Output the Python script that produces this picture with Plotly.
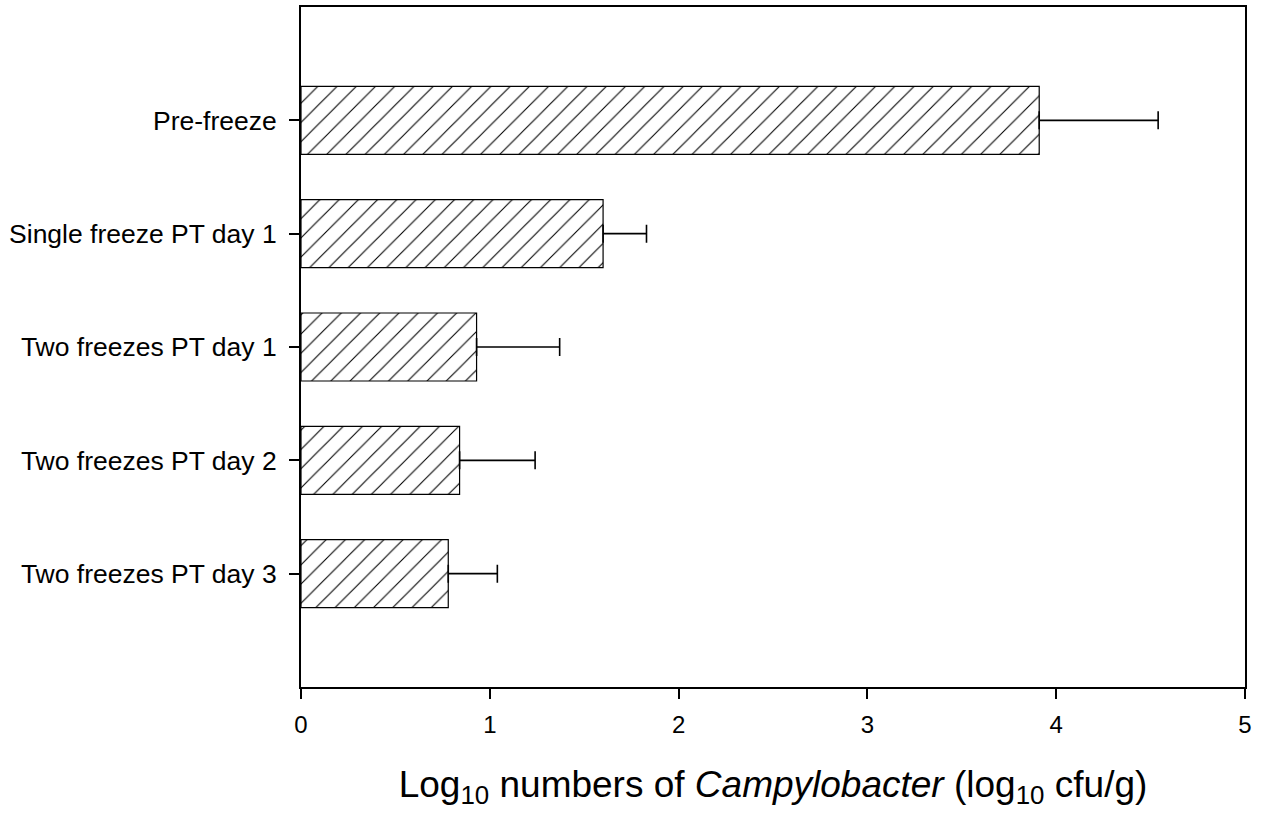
import plotly.graph_objects as go

categories = ["Pre-freeze", "Single freeze PT day 1", "Two freezes PT day 1",
              "Two freezes PT day 2", "Two freezes PT day 3"]
means = [3.91, 1.60, 0.93, 0.84, 0.78]
errors = [0.63, 0.23, 0.44, 0.40, 0.26]
x_ticks = [0, 1, 2, 3, 4, 5]

FONT = "Liberation Sans, Arial, sans-serif"

fig = go.Figure()
fig.add_trace(go.Bar(
    x=means,
    y=categories,
    orientation="h",
    width=0.6,
    marker=dict(
        color="white",
        line=dict(color="black", width=1.2),
        pattern=dict(shape="/", size=13.6, solidity=0.08,
                     fgcolor="black", bgcolor="white", fgopacity=1,
                     fillmode="overlay"),
    ),
    error_x=dict(type="data", array=errors, symmetric=False,
                 arrayminus=[0] * len(errors),
                 color="black", thickness=1.6, width=9),
    showlegend=False,
))

fig.update_layout(
    width=1265, height=814,
    margin=dict(l=301, r=20, t=5, b=127),
    paper_bgcolor="white", plot_bgcolor="white",
    font=dict(family=FONT, color="black", size=26),
    xaxis=dict(
        range=[0, 5], tickvals=x_ticks, ticktext=[str(v) for v in x_ticks],
        showline=True, linecolor="black", linewidth=2, mirror=True,
        ticks="outside", ticklen=10, tickwidth=1.5, tickcolor="black",
        showgrid=False, zeroline=False,
        tickfont=dict(size=24), ticklabelstandoff=5,
        title=dict(text="Log<sub>10</sub> numbers of <i>Campylobacter</i> (log<sub>10</sub> cfu/g)",
                   font=dict(size=37), standoff=34),
    ),
    yaxis=dict(
        type="category", categoryorder="array", categoryarray=categories,
        range=[5, -1],
        showline=True, linecolor="black", linewidth=2, mirror=True,
        ticks="outside", ticklen=10, tickwidth=1.5, tickcolor="black",
        showgrid=False, zeroline=False,
        tickfont=dict(size=26.5), ticklabelstandoff=7,
    ),
)

fig.write_html("out.html")
